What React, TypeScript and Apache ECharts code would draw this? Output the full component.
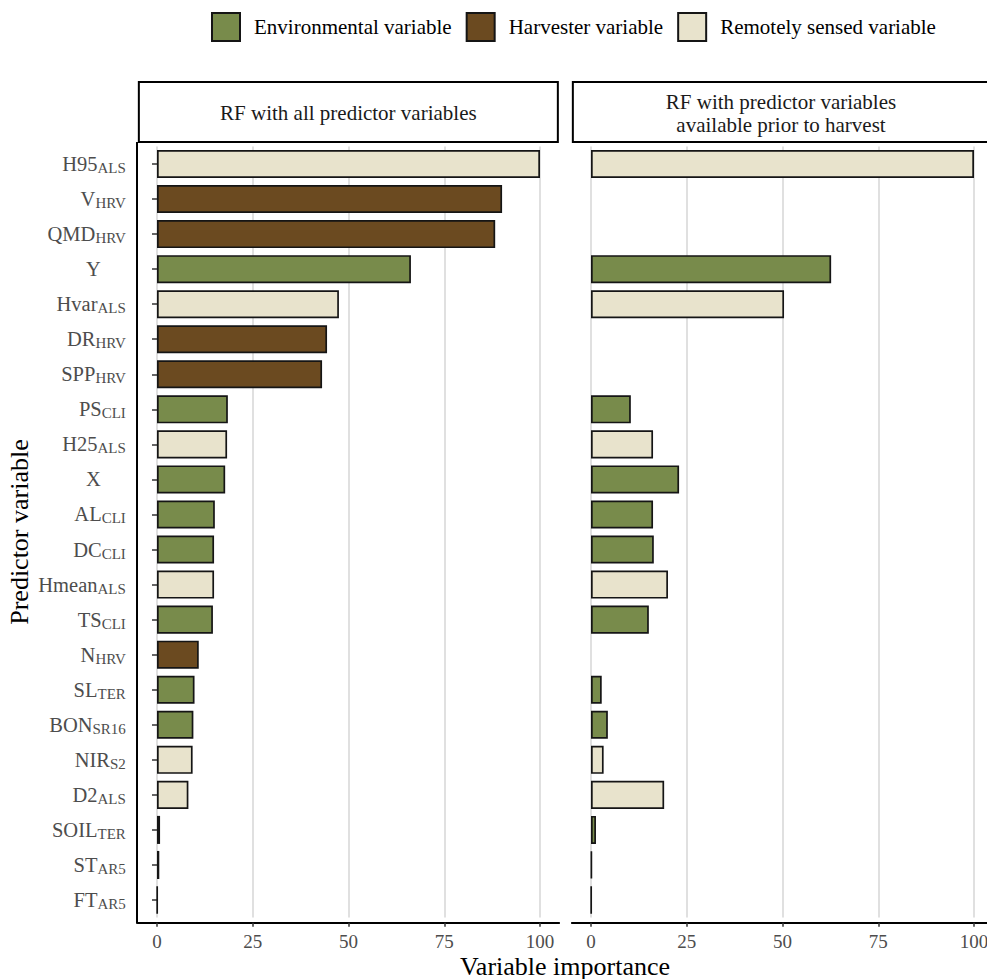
import React, { useEffect, useRef } from "react";
import * as echarts from "echarts";

// ---------- data ----------
const predictors = [
  "H95_ALS", "V_HRV", "QMD_HRV", "Y", "Hvar_ALS", "DR_HRV", "SPP_HRV", "PS_CLI",
  "H25_ALS", "X", "AL_CLI", "DC_CLI", "Hmean_ALS", "TS_CLI", "N_HRV", "SL_TER",
  "BON_SR16", "NIR_S2", "D2_ALS", "SOIL_TER", "ST_AR5", "FT_AR5",
];
const labelMain = [
  "H95", "V", "QMD", "Y", "Hvar", "DR", "SPP", "PS", "H25", "X", "AL", "DC",
  "Hmean", "TS", "N", "SL", "BON", "NIR", "D2", "SOIL", "ST", "FT",
];
const labelSub = [
  "ALS", "HRV", "HRV", "", "ALS", "HRV", "HRV", "CLI", "ALS", "", "CLI", "CLI",
  "ALS", "CLI", "HRV", "TER", "SR16", "S2", "ALS", "TER", "AR5", "AR5",
];
// E = environmental, H = harvester, R = remotely sensed
const varType = [
  "R", "H", "H", "E", "R", "H", "H", "E", "R", "E", "E", "E",
  "R", "E", "H", "E", "E", "R", "R", "E", "E", "E",
];
const importanceAll = [
  100, 90.1, 88.3, 66.3, 47.5, 44.4, 43.1, 18.5, 18.3, 17.8, 15.1, 14.9,
  14.9, 14.6, 10.9, 9.8, 9.5, 9.3, 8.2, 0.8, 0.6, 0.1,
];
const importancePrior = [
  100, null, null, 62.7, 50.4, null, null, 10.4, 16.2, 23.0, 16.2, 16.4,
  20.1, 15.1, null, 2.8, 4.4, 3.3, 19.1, 1.3, 0.2, 0.1,
];
const typeKeys = ["E", "H", "R"];
const typeNames = ["Environmental variable", "Harvester variable", "Remotely sensed variable"];
const typeColors = ["#788B4B", "#6B4A20", "#E8E3CC"];
const xTicks = [0, 25, 50, 75, 100];
const panelTitles = [
  "RF with all predictor variables",
  "RF with predictor variables\navailable prior to harvest",
];
const xTitle = "Variable importance";
const yTitle = "Predictor variable";

// ---------- styling ----------
const FONT = "Liberation Serif";
const gridTop = 146.48;
const gridHeight = 771.05;
const gridLefts = [137.85, 571.85];
const gridWidth = 421.3;

export default function App() {
  const ref = useRef<HTMLDivElement>(null);

  useEffect(() => {
    if (!ref.current) return;
    const chart = echarts.init(ref.current, undefined, { renderer: "svg" });

    const series: any[] = [];
    [importanceAll, importancePrior].forEach((vals, p) => {
      typeKeys.forEach((k, t) => {
        series.push({
          type: "bar",
          name: typeNames[t],
          xAxisIndex: p,
          yAxisIndex: p,
          data: vals.map((v, i) => (varType[i] === k ? v : null)),
          barWidth: "80%",
          barGap: "-100%",
          itemStyle: { color: typeColors[t], borderColor: "#151515", borderWidth: 1.7 },
          emphasis: { disabled: true },
        });
      });
    });

    const xAxes = [0, 1].map((p) => ({
      gridIndex: p,
      type: "value",
      min: -5,
      max: 105,
      offset: 5.2,
      axisLine: { show: true, onZero: false, lineStyle: { color: "#000", width: 2 } },
      axisTick: { show: true, length: 4, customValues: xTicks, lineStyle: { color: "#333", width: 1.5 } },
      axisLabel: { customValues: xTicks, margin: 9, fontFamily: FONT, fontSize: 19, color: "#4d4d4d" },
      splitLine: { show: true, lineStyle: { color: "#e0e0e0", width: 2 } },
    }));

    const yAxes = [
      {
        gridIndex: 0,
        type: "category",
        data: predictors,
        inverse: true,
        axisLine: { show: false },
        axisTick: { show: true, alignWithLabel: true, length: 5, lineStyle: { color: "#333", width: 1.5 } },
        axisLabel: {
          interval: 0,
          margin: 12,
          formatter: (_v: string, i: number) =>
            labelSub[i] ? `{m|${labelMain[i]}}{s|${labelSub[i]}}` : `{m|${labelMain[i]}}{p| }`,
          rich: {
            m: { fontFamily: FONT, fontSize: 20.5, color: "#4d4d4d" },
            s: { fontFamily: FONT, fontSize: 15, color: "#4d4d4d", padding: [8, 0, 0, 0] },
            p: { fontFamily: FONT, fontSize: 15, width: 25 },
          },
        },
        splitLine: { show: false },
        name: yTitle,
        nameLocation: "middle",
        nameRotate: 90,
        nameGap: 105,
        nameTextStyle: { fontFamily: FONT, fontSize: 26, color: "#000" },
      },
      {
        gridIndex: 1,
        type: "category",
        data: predictors,
        inverse: true,
        axisLine: { show: false },
        axisTick: { show: false },
        axisLabel: { show: false },
        splitLine: { show: false },
      },
    ];

    const stripY = 82;
    const stripH = 60;
    const graphic: any[] = [
      // left y axis line
      {
        type: "line",
        shape: { x1: 137, y1: 142, x2: 137, y2: 923.7 },
        style: { stroke: "#000", lineWidth: 2 },
        silent: true,
      },
    ];
    const stripX = [138.85, 572.85];
    const stripW = [419, 440];
    [0, 1].forEach((p) => {
      graphic.push({
        type: "rect",
        shape: { x: stripX[p], y: stripY, width: stripW[p], height: stripH },
        style: { fill: "#fff", stroke: "#000", lineWidth: 2 },
        silent: true,
      });
      graphic.push({
        type: "text",
        x: p === 0 ? stripX[0] + stripW[0] / 2 : 781,
        y: stripY + stripH / 2 + 1,
        style: {
          text: panelTitles[p],
          fontFamily: FONT,
          fontSize: 21,
          lineHeight: 23,
          fill: "#1a1a1a",
          align: "center",
          verticalAlign: "middle",
        },
        silent: true,
      });
    });
    graphic.push({
      type: "text",
      x: 565,
      y: 966.5,
      style: {
        text: xTitle,
        fontFamily: FONT,
        fontSize: 26,
        fill: "#000",
        align: "center",
        verticalAlign: "middle",
      },
      silent: true,
    });

    chart.setOption({
      animation: false,
      textStyle: { fontFamily: FONT },
      legend: {
        data: typeNames,
        left: 211,
        top: 12,
        padding: 0,
        icon: "rect",
        itemWidth: 28,
        itemHeight: 28,
        itemGap: 14,
        selectedMode: false,
        textStyle: { fontFamily: FONT, fontSize: 21, color: "#000", padding: [0, 0, 0, 9] },
      },
      grid: gridLefts.map((l) => ({
        left: l,
        top: gridTop,
        width: gridWidth,
        height: gridHeight,
        containLabel: false,
        outerBoundsMode: "none",
      })),
      xAxis: xAxes,
      yAxis: yAxes,
      series,
      graphic,
    });

    return () => chart.dispose();
  }, []);

  return (
    <div
      ref={ref}
      style={{ position: "absolute", left: 0, top: 0, width: 987, height: 979, background: "#fff" }}
    />
  );
}
